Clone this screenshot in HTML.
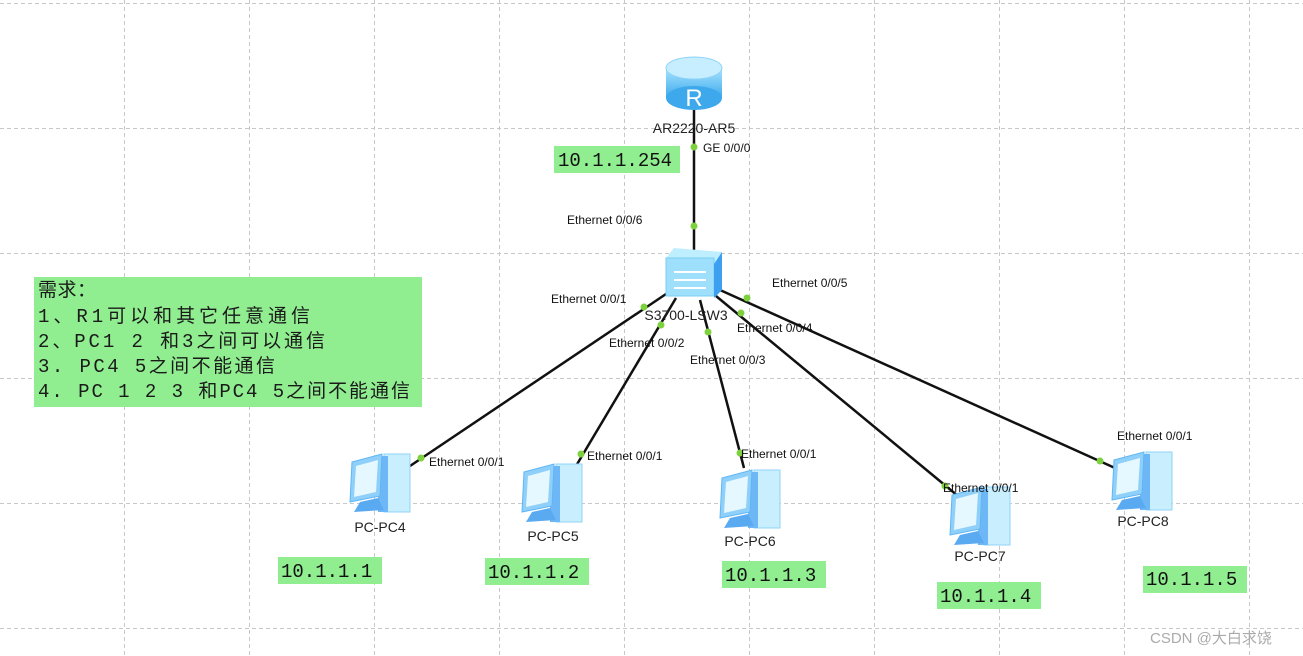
<!DOCTYPE html>
<html><head><meta charset="utf-8"><style>
html,body{margin:0;padding:0;background:#fff;width:1303px;height:656px;overflow:hidden}
svg{display:block}
.lb{font-family:"Liberation Sans",Arial,sans-serif;font-size:12px;fill:#111}
.nm{font-family:"Liberation Sans",Arial,sans-serif;font-size:14px;fill:#222}
.ip{font-family:"Liberation Mono","DejaVu Sans Mono",monospace;font-size:19px;fill:#111}
.cn{font-family:"Liberation Mono","Noto Sans CJK SC",monospace;font-size:19px;fill:#1a1a1a}
</style></head><body>
<svg width="1303" height="656" viewBox="0 0 1303 656" xmlns="http://www.w3.org/2000/svg">
<defs>
<linearGradient id="rg" x1="0" y1="0" x2="0" y2="1"><stop offset="0" stop-color="#a9e4ff"/><stop offset="1" stop-color="#3da9ec"/></linearGradient>
<g id="pc">
<rect x="36" y="2" width="26" height="58" fill="#c9efff" stroke="#8fd3f7"/>
<rect x="30" y="4" width="10" height="56" fill="#6db7f7"/>
<polygon points="4,10 34,2 32,44 2,50" fill="#8fd0fa" stroke="#5fb6f4"/>
<polygon points="8,14 30,8 28,40 6,45" fill="#e6f8ff"/>
<polygon points="12,50 30,46 36,58 6,60" fill="#5aaaf2"/>
</g>
</defs>
<g stroke="#c8c8c8" stroke-width="1" stroke-dasharray="4,3">
<line x1="0" y1="3.5" x2="1303" y2="3.5"/><line x1="0" y1="128.5" x2="1303" y2="128.5"/><line x1="0" y1="253.5" x2="1303" y2="253.5"/><line x1="0" y1="378.5" x2="1303" y2="378.5"/><line x1="0" y1="503.5" x2="1303" y2="503.5"/><line x1="0" y1="628.5" x2="1303" y2="628.5"/>
<line x1="124.5" y1="0" x2="124.5" y2="656"/><line x1="249.5" y1="0" x2="249.5" y2="656"/><line x1="374.5" y1="0" x2="374.5" y2="656"/><line x1="499.5" y1="0" x2="499.5" y2="656"/><line x1="624.5" y1="0" x2="624.5" y2="656"/><line x1="749.5" y1="0" x2="749.5" y2="656"/><line x1="874.5" y1="0" x2="874.5" y2="656"/><line x1="999.5" y1="0" x2="999.5" y2="656"/><line x1="1124.5" y1="0" x2="1124.5" y2="656"/><line x1="1249.5" y1="0" x2="1249.5" y2="656"/>
</g>
<g stroke="#111" stroke-width="2.5">
<line x1="694" y1="110" x2="694" y2="255"/>
<line x1="666" y1="294" x2="410" y2="466"/>
<line x1="676" y1="298" x2="576" y2="466"/>
<line x1="700" y1="300" x2="744" y2="468"/>
<line x1="716" y1="296" x2="958" y2="496"/>
<line x1="720" y1="290" x2="1115" y2="468"/>
</g>
<rect x="666" y="68" width="56" height="30" fill="url(#rg)"/>
<ellipse cx="694" cy="98" rx="28" ry="12" fill="#3da9ec"/>
<ellipse cx="694" cy="68" rx="28" ry="11" fill="#c6eeff" stroke="#8fd3f7"/>
<text x="694" y="106" text-anchor="middle" font-family="Liberation Sans,sans-serif" font-size="24" fill="#fff">R</text>
<polygon points="666,258 674,248 722,252 714,264" fill="#bfeeff"/>
<rect x="666" y="258" width="48" height="38" fill="#9ee0fc" stroke="#79cdf5"/>
<polygon points="714,264 722,252 722,290 714,298" fill="#3c9ff0"/>
<g stroke="#fff" stroke-width="2" fill="none"><path d="M674 272h32M674 280h32M674 288h32"/></g>
<use href="#pc" x="348" y="452"/>
<use href="#pc" x="520" y="462"/>
<use href="#pc" x="718" y="468"/>
<use href="#pc" x="948" y="485"/>
<use href="#pc" x="1110" y="450"/>
<g fill="#7ed13e">
<circle cx="694" cy="147" r="3.5"/><circle cx="694" cy="226" r="3.5"/>
<circle cx="644" cy="307" r="3.5"/><circle cx="421" cy="458" r="3.5"/>
<circle cx="661" cy="325" r="3.5"/><circle cx="581" cy="454" r="3.5"/>
<circle cx="708" cy="332" r="3.5"/><circle cx="740" cy="453" r="3.5"/>
<circle cx="741" cy="313" r="3.5"/><circle cx="945" cy="486" r="3.5"/>
<circle cx="747" cy="298" r="3.5"/><circle cx="1100" cy="461" r="3.5"/>
</g>
<g class="lb">
<text x="703" y="152">GE 0/0/0</text>
<text x="567" y="224">Ethernet 0/0/6</text>
<text x="551" y="303">Ethernet 0/0/1</text>
<text x="772" y="287">Ethernet 0/0/5</text>
<text x="737" y="332">Ethernet 0/0/4</text>
<text x="609" y="347">Ethernet 0/0/2</text>
<text x="690" y="364">Ethernet 0/0/3</text>
<text x="429" y="466">Ethernet 0/0/1</text>
<text x="587" y="460">Ethernet 0/0/1</text>
<text x="741" y="458">Ethernet 0/0/1</text>
<text x="943" y="492">Ethernet 0/0/1</text>
<text x="1117" y="440">Ethernet 0/0/1</text>
</g>
<g class="nm" text-anchor="middle">
<text x="694" y="133">AR2220-AR5</text>
<text x="686" y="320">S3700-LSW3</text>
<text x="380" y="532">PC-PC4</text>
<text x="553" y="541">PC-PC5</text>
<text x="750" y="546">PC-PC6</text>
<text x="980" y="561">PC-PC7</text>
<text x="1143" y="526">PC-PC8</text>
</g>
<g fill="#90ee90">
<rect x="554" y="146" width="126" height="27"/>
<rect x="278" y="557" width="104" height="27"/>
<rect x="485" y="558" width="104" height="27"/>
<rect x="722" y="561" width="104" height="27"/>
<rect x="937" y="582" width="104" height="27"/>
<rect x="1143" y="566" width="104" height="27"/>
<rect x="34" y="277" width="388" height="130"/>
</g>
<g class="ip">
<text x="558" y="166">10.1.1.254</text>
<text x="281" y="577">10.1.1.1</text>
<text x="488" y="578">10.1.1.2</text>
<text x="725" y="581">10.1.1.3</text>
<text x="940" y="602">10.1.1.4</text>
<text x="1146" y="585">10.1.1.5</text>
</g>
<g class="cn">
<text x="38" y="296" textLength="58" lengthAdjust="spacing">需求：</text>
<text x="38" y="322" textLength="272" lengthAdjust="spacing">1、R1可以和其它任意通信</text>
<text x="38" y="347" textLength="287" lengthAdjust="spacing">2、PC1 2 和3之间可以通信</text>
<text x="38" y="372" textLength="237" lengthAdjust="spacing">3. PC4 5之间不能通信</text>
<text x="38" y="397" textLength="372" lengthAdjust="spacing">4. PC 1 2 3 和PC4 5之间不能通信</text>
</g>
<text x="1150" y="643" font-family="Liberation Sans,'Noto Sans CJK SC',sans-serif" font-size="15" fill="#aaa">CSDN @大白求饶</text>
</svg>
</body></html>
